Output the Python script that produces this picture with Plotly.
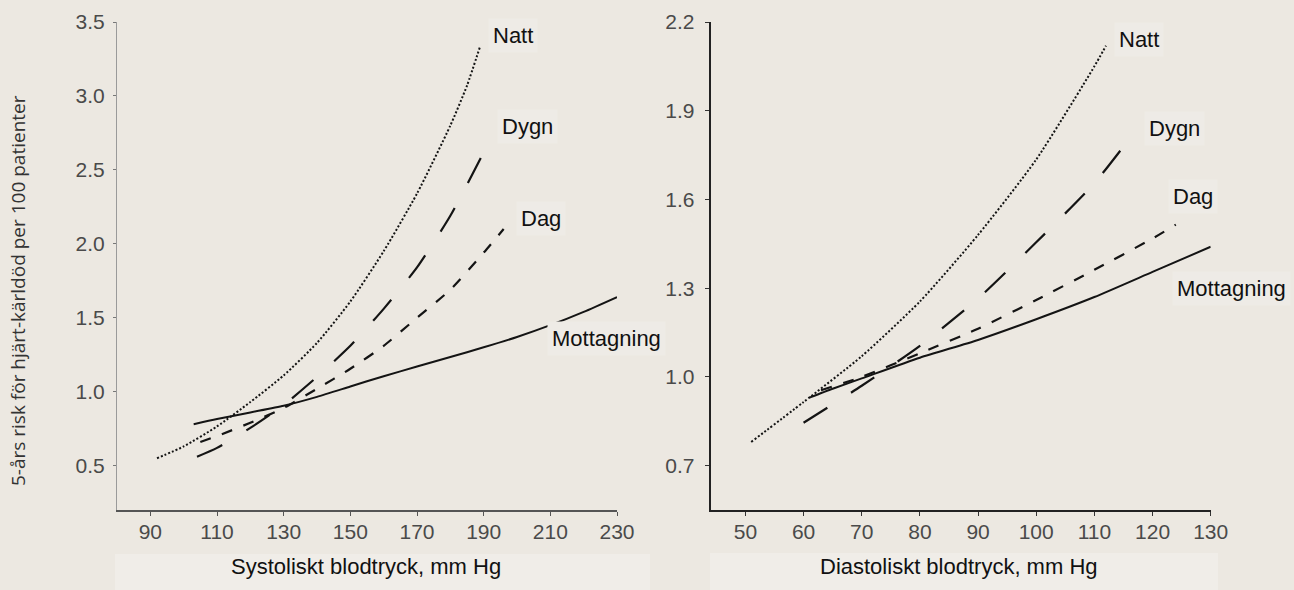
import plotly.graph_objects as go
from plotly.subplots import make_subplots

# ---------------- data ----------------
# Left panel: systolic blood pressure (mm Hg) vs 5-year risk
sys_natt_x = [92, 100, 110, 120, 130, 140, 150, 160, 170, 180, 185, 189]
sys_natt_y = [0.55, 0.63, 0.765, 0.93, 1.11, 1.33, 1.61, 1.95, 2.34, 2.80, 3.07, 3.34]

sys_dygn_x = [104, 110, 120, 130, 140, 150, 160, 170, 180, 190, 192]
sys_dygn_y = [0.56, 0.62, 0.755, 0.91, 1.10, 1.31, 1.56, 1.84, 2.19, 2.62, 2.72]

sys_dag_x = [105, 110, 120, 130, 140, 150, 160, 170, 180, 190, 196]
sys_dag_y = [0.66, 0.70, 0.79, 0.89, 1.02, 1.155, 1.31, 1.50, 1.69, 1.94, 2.10]

sys_mott_x = [103, 110, 120, 130, 140, 150, 160, 170, 180, 190, 200, 210, 220, 230]
sys_mott_y = [0.78, 0.815, 0.86, 0.905, 0.965, 1.035, 1.105, 1.17, 1.235, 1.30, 1.37, 1.45, 1.54, 1.64]

# Right panel: diastolic blood pressure (mm Hg) vs 5-year risk
dia_natt_x = [51, 60, 70, 80, 90, 100, 110, 112]
dia_natt_y = [0.78, 0.915, 1.07, 1.255, 1.48, 1.735, 2.05, 2.12]

dia_dygn_x = [60, 70, 80, 90, 100, 110, 116.6]
dia_dygn_y = [0.845, 0.97, 1.105, 1.265, 1.455, 1.655, 1.82]

dia_dag_x = [63, 70, 80, 90, 100, 110, 120, 124]
dia_dag_y = [0.955, 1.0, 1.08, 1.163, 1.26, 1.362, 1.468, 1.515]

dia_mott_x = [61, 65, 70, 80, 90, 100, 110, 120, 130]
dia_mott_y = [0.93, 0.96, 0.995, 1.065, 1.125, 1.195, 1.27, 1.355, 1.44]

series_names = ["Natt", "Dygn", "Dag", "Mottagning"]

sys_ticks = [90, 110, 130, 150, 170, 190, 210, 230]
sys_risk_ticks = [0.5, 1.0, 1.5, 2.0, 2.5, 3.0, 3.5]
dia_ticks = [50, 60, 70, 80, 90, 100, 110, 120, 130]
dia_risk_ticks = [0.7, 1.0, 1.3, 1.6, 1.9, 2.2]

x_title_left = "Systoliskt blodtryck, mm Hg"
x_title_right = "Diastoliskt blodtryck, mm Hg"
y_title = "5-års risk för hjärt-kärldöd per 100 patienter"

# label anchor positions (data coordinates, left edge of text box)
sys_label_x = [191.2, 193.9, 199.7, 209.0]
sys_label_y = [3.41, 2.79, 2.17, 1.36]
dia_label_x = [113.3, 118.5, 122.6, 123.3]
dia_label_y = [2.14, 1.84, 1.61, 1.30]

# ---------------- styling ----------------
BG = "#ECE8E1"
LINE = "#141414"
SANS = "Liberation Sans, Arial, sans-serif"
dash_styles = {
    "Natt": dict(dash="2px,2px", width=2),
    "Dygn": dict(dash="28px,28px", width=2.2),
    "Dag": dict(dash="11px,12px", width=2.2),
    "Mottagning": dict(dash="solid", width=2),
}

fig = make_subplots(rows=1, cols=2)

left = [(sys_natt_x, sys_natt_y), (sys_dygn_x, sys_dygn_y), (sys_dag_x, sys_dag_y), (sys_mott_x, sys_mott_y)]
right = [(dia_natt_x, dia_natt_y), (dia_dygn_x, dia_dygn_y), (dia_dag_x, dia_dag_y), (dia_mott_x, dia_mott_y)]

for col, data in ((1, left), (2, right)):
    for name, (xs, ys) in zip(series_names, data):
        st = dash_styles[name]
        fig.add_trace(
            go.Scatter(
                x=xs, y=ys, mode="lines", name=name, showlegend=False,
                line=dict(color=LINE, width=st["width"], dash=st["dash"], shape="spline", smoothing=0.6),
                hoverinfo="skip",
            ),
            row=1, col=col,
        )

tickfont = dict(family=SANS, size=21, color="#4a4a4a")
common = dict(showgrid=False, zeroline=False, tickfont=tickfont, automargin=False, ticks="outside")

fig.update_xaxes(
    row=1, col=1, domain=[117 / 1294, 617 / 1294], range=[80, 230],
    tickvals=sys_ticks, ticktext=[str(v) for v in sys_ticks],
    showline=True, linecolor="#555555", linewidth=1.5,
    ticklen=4, tickcolor="#555555", tickwidth=1.2, ticklabelstandoff=-2, **common,
)
fig.update_yaxes(
    row=1, col=1, domain=[80 / 590, 568 / 590], range=[0.2, 3.5],
    tickvals=sys_risk_ticks, ticktext=[f"{v:.1f}" for v in sys_risk_ticks],
    showline=True, linecolor="#9a9a9a", linewidth=1.2,
    ticklen=3, tickcolor="#777777", tickwidth=1.2, ticklabelstandoff=4, **common,
)
fig.update_xaxes(
    row=1, col=2, domain=[710.5 / 1294, 1210.7 / 1294], range=[44, 130],
    tickvals=dia_ticks, ticktext=[str(v) for v in dia_ticks],
    showline=True, linecolor="#222222", linewidth=1.5,
    ticklen=4, tickcolor="#333333", tickwidth=1.2, ticklabelstandoff=-2, **common,
)
fig.update_yaxes(
    row=1, col=2, domain=[80 / 590, 568 / 590], range=[0.55, 2.2],
    tickvals=dia_risk_ticks, ticktext=[f"{v:.1f}" for v in dia_risk_ticks],
    showline=True, linecolor="#222222", linewidth=1.5,
    ticklen=4, tickcolor="#333333", tickwidth=1.2, ticklabelstandoff=6, **common,
)

labelfont = dict(family=SANS, size=22, color="#111111")
annotations = []
for name, lx, ly in zip(series_names, sys_label_x, sys_label_y):
    annotations.append(dict(x=lx, y=ly, xref="x", yref="y", text=name, showarrow=False,
                            xanchor="left", yanchor="middle", font=labelfont,
                            bgcolor="#EEEBE6", borderpad=4))
for name, lx, ly in zip(series_names, dia_label_x, dia_label_y):
    annotations.append(dict(x=lx, y=ly, xref="x2", yref="y2", text=name, showarrow=False,
                            xanchor="left", yanchor="middle", font=labelfont,
                            bgcolor="#EEEBE6", borderpad=4))

annotations.append(dict(x=366 / 1294, y=24 / 590, xref="paper", yref="paper", text=x_title_left,
                        showarrow=False, xanchor="center", yanchor="middle", font=labelfont))
annotations.append(dict(x=959 / 1294, y=24 / 590, xref="paper", yref="paper", text=x_title_right,
                        showarrow=False, xanchor="center", yanchor="middle", font=labelfont))
annotations.append(dict(x=18 / 1294, y=(590 - 291) / 590, xref="paper", yref="paper", text=y_title,
                        textangle=-90, showarrow=False, xanchor="center", yanchor="middle",
                        font=dict(family="Open Sans, Noto Sans, sans-serif", size=19, color="#333333")))

shapes = [
    dict(type="rect", xref="paper", yref="paper", x0=115 / 1294, x1=650 / 1294, y0=0, y1=36 / 590,
         fillcolor="#F0EDE8", line=dict(width=0), layer="below"),
    dict(type="rect", xref="paper", yref="paper", x0=710 / 1294, x1=1218 / 1294, y0=0, y1=37 / 590,
         fillcolor="#F0EDE8", line=dict(width=0), layer="below"),
]

fig.update_layout(
    width=1294, height=590,
    margin=dict(l=0, r=0, t=0, b=0, autoexpand=False),
    paper_bgcolor=BG, plot_bgcolor=BG,
    annotations=annotations, shapes=shapes,
    showlegend=False,
)

fig.write_html("out.html", config={"responsive": False, "displayModeBar": False})

# remove the browser's default page margin so the figure fills the window exactly
with open("out.html", "r", encoding="utf-8") as f:
    html = f.read()
html = html.replace("<body>", '<body style="margin:0;padding:0;overflow:hidden;">', 1)
with open("out.html", "w", encoding="utf-8") as f:
    f.write(html)
